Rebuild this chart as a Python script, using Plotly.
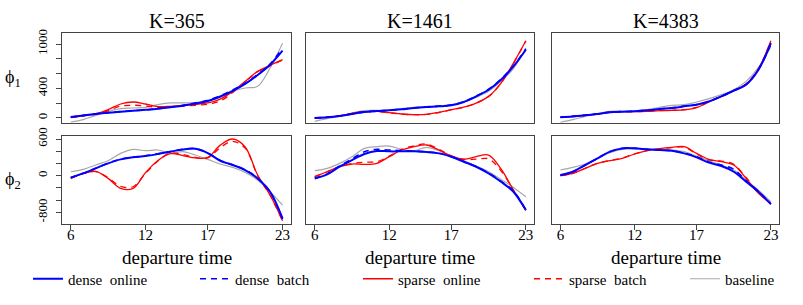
import plotly.graph_objects as go

hours = list(range(6, 24))
x_tickvals = [6, 12, 17, 23]
x_ticktext = ["6", "12", "17", "23"]
phi1_tickvals = [0, 400, 1000]
phi1_ticktext = ["0", "400", "1000"]
phi2_tickvals = [600, 0, -600]
phi2_ticktext = ["600", "0", "-800"]
y_minor_step = 200
panel_titles = ["K=365", "K=1461", "K=4383"]

# ---- K=365 ----
k365_phi1_dense_online = [14, 35, 55, 72, 85, 97, 110, 125, 145, 165, 195, 230, 290, 365, 460, 580, 720, 910]
k365_phi1_dense_batch = [14, 35, 55, 72, 86, 98, 110, 126, 147, 170, 203, 240, 300, 380, 470, 590, 730, 945]
k365_phi1_sparse_online = [9, 30, 54, 112, 189, 216, 189, 153, 158, 171, 184, 203, 256, 360, 495, 630, 711, 788]
k365_phi1_sparse_batch = [5, 28, 50, 100, 160, 172, 162, 145, 150, 162, 172, 185, 230, 345, 490, 625, 705, 785]
k365_phi1_baseline = [-54, -22, 36, 90, 126, 135, 144, 180, 203, 203, 207, 234, 279, 360, 405, 428, 675, 1012]

k365_phi2_dense_online = [-33, 38, 120, 202, 267, 300, 322, 355, 393, 430, 440, 370, 245, 175, 93, -44, -262, -698]
k365_phi2_dense_batch = [-30, 40, 122, 205, 270, 303, 325, 357, 395, 432, 442, 372, 248, 178, 96, -40, -265, -710]
k365_phi2_sparse_online = [-44, 38, 71, -44, -207, -207, 50, 250, 360, 330, 290, 300, 500, 600, 470, 11, -316, -736]
k365_phi2_sparse_batch = [-40, 35, 68, -30, -175, -180, 40, 240, 370, 345, 300, 290, 460, 560, 450, 0, -320, -740]
k365_phi2_baseline = [65, 104, 175, 245, 365, 431, 409, 420, 365, 393, 338, 267, 191, 136, 55, -71, -262, -480]

# ---- K=1461 ----
k1461_phi1_dense_online = [0, 9, 27, 54, 81, 94, 103, 117, 135, 148, 157, 171, 216, 292, 382, 517, 697, 922]
k1461_phi1_dense_batch = [0, 10, 28, 55, 83, 96, 104, 118, 136, 150, 160, 175, 220, 296, 388, 525, 705, 935]
k1461_phi1_sparse_online = [0, 9, 27, 63, 85, 88, 72, 54, 45, 49, 76, 112, 148, 202, 292, 472, 742, 1044]
k1461_phi1_sparse_batch = [0, 9, 27, 62, 84, 87, 70, 53, 44, 48, 74, 110, 146, 200, 290, 470, 738, 1040]
k1461_phi1_baseline = [-45, -9, 22, 67, 99, 103, 103, 126, 144, 153, 162, 180, 216, 279, 360, 495, 666, 945]

k1461_phi2_dense_online = [-44, 22, 147, 256, 355, 404, 398, 398, 398, 387, 365, 311, 229, 147, 38, -98, -262, -562]
k1461_phi2_dense_batch = [-40, 30, 160, 275, 393, 431, 420, 410, 400, 390, 368, 313, 232, 150, 45, -90, -250, -560]
k1461_phi2_sparse_online = [-16, 65, 147, 191, 185, 202, 311, 420, 475, 502, 420, 322, 270, 311, 338, 110, -235, -562]
k1461_phi2_sparse_batch = [-16, 65, 150, 200, 222, 229, 320, 430, 490, 518, 430, 325, 265, 270, 275, 80, -240, -565]
k1461_phi2_baseline = [82, 120, 202, 311, 447, 475, 485, 431, 409, 464, 409, 311, 245, 158, 65, -60, -191, -344]

# ---- K=4383 ----
k4383_phi1_dense_online = [9, 20, 36, 54, 76, 85, 90, 103, 121, 135, 157, 180, 225, 292, 369, 450, 652, 1012]
k4383_phi1_dense_batch = [9, 21, 37, 55, 77, 86, 91, 104, 122, 137, 160, 182, 227, 294, 372, 455, 655, 1000]
k4383_phi1_sparse_online = [9, 22, 36, 54, 76, 85, 85, 90, 99, 103, 110, 140, 216, 292, 369, 459, 666, 1044]
k4383_phi1_sparse_batch = [9, 22, 37, 55, 77, 86, 86, 91, 100, 104, 112, 142, 218, 293, 370, 460, 668, 1040]
k4383_phi1_baseline = [-58, -22, 22, 58, 90, 90, 94, 112, 144, 171, 180, 216, 261, 315, 382, 495, 684, 967]

k4383_phi2_dense_online = [11, 65, 175, 284, 393, 447, 447, 431, 420, 409, 365, 300, 213, 158, 65, -98, -262, -464]
k4383_phi2_dense_batch = [11, 65, 175, 284, 393, 447, 447, 431, 420, 409, 368, 310, 225, 175, 104, -80, -255, -464]
k4383_phi2_sparse_online = [0, 38, 120, 202, 245, 284, 355, 409, 442, 464, 475, 365, 267, 229, 175, -44, -289, -453]
k4383_phi2_sparse_batch = [0, 38, 122, 205, 250, 290, 358, 410, 440, 460, 465, 355, 260, 240, 185, -30, -280, -453]
k4383_phi2_baseline = [93, 136, 191, 284, 376, 431, 442, 431, 431, 420, 393, 322, 245, 175, 93, -71, -235, -426]

panels = [
    [  # row 1: phi1
        (k365_phi1_dense_online, k365_phi1_dense_batch, k365_phi1_sparse_online, k365_phi1_sparse_batch, k365_phi1_baseline),
        (k1461_phi1_dense_online, k1461_phi1_dense_batch, k1461_phi1_sparse_online, k1461_phi1_sparse_batch, k1461_phi1_baseline),
        (k4383_phi1_dense_online, k4383_phi1_dense_batch, k4383_phi1_sparse_online, k4383_phi1_sparse_batch, k4383_phi1_baseline),
    ],
    [  # row 2: phi2
        (k365_phi2_dense_online, k365_phi2_dense_batch, k365_phi2_sparse_online, k365_phi2_sparse_batch, k365_phi2_baseline),
        (k1461_phi2_dense_online, k1461_phi2_dense_batch, k1461_phi2_sparse_online, k1461_phi2_sparse_batch, k1461_phi2_baseline),
        (k4383_phi2_dense_online, k4383_phi2_dense_batch, k4383_phi2_sparse_online, k4383_phi2_sparse_batch, k4383_phi2_baseline),
    ],
]

series_names = ["dense\u00a0 online", "dense\u00a0 batch", "sparse\u00a0 online", "sparse\u00a0 batch", "baseline"]
series_style = [
    dict(color="#0000FF", width=2.0, dash="solid"),
    dict(color="#0000FF", width=1.6, dash="6px,5px"),
    dict(color="#FF0000", width=1.3, dash="solid"),
    dict(color="#FF0000", width=1.3, dash="6px,5px"),
    dict(color="#A8A8A8", width=1.2, dash="solid"),
]
legend_ids = ["legend", "legend2", "legend3", "legend4", "legend5"]
legend_line_start_px = [33, 200, 363, 534, 690]
draw_order = [4, 2, 3, 0, 1]

W, H = 803, 305
col_px = [(62.3, 291.0), (306.3, 534.3), (552.0, 779.3)]
row_px = [(33.0, 123.3), (135.7, 224.3)]
FONT = "Liberation Serif"
FRAME = "#444444"

fig = go.Figure()
layout = {}
for r in range(2):
    for c in range(3):
        i = r * 3 + c + 1
        xa = f"x{i}" if i > 1 else "x"
        ya = f"y{i}" if i > 1 else "y"
        data = panels[r][c]
        for s in draw_order:
            fig.add_trace(go.Scatter(
                x=hours, y=data[s], mode="lines",
                line=dict(shape="spline", smoothing=1.0, **series_style[s]),
                name=series_names[s], legend=legend_ids[s],
                showlegend=(r == 0 and c == 0),
                xaxis=xa, yaxis=ya, hoverinfo="skip",
            ))
        x0, x1 = col_px[c]
        y0, y1 = row_px[r]
        xkey = "xaxis" if i == 1 else f"xaxis{i}"
        ykey = "yaxis" if i == 1 else f"yaxis{i}"
        layout[xkey] = dict(
            domain=[x0 / W, x1 / W], anchor=ya, range=[5.32, 23.68], automargin=False,
            showline=True, mirror=True, linecolor=FRAME, linewidth=1,
            showgrid=False, zeroline=False,
            ticks="outside" if r == 1 else "", ticklen=5, tickcolor=FRAME, tickwidth=1,
            tickvals=x_tickvals, ticktext=x_ticktext, showticklabels=(r == 1),
            ticklabelstandoff=-8,
            tickfont=dict(family=FONT, size=15, color="black"),
        )
        if r == 0:
            yr = [-72, 1149]
            tv, tt = phi1_tickvals, phi1_ticktext
        else:
            yr = [-794, 654]
            tv, tt = phi2_tickvals, phi2_ticktext
        layout[ykey] = dict(
            domain=[1 - y1 / H, 1 - y0 / H], anchor=xa, range=yr, automargin=False,
            showline=True, mirror=True, linecolor=FRAME, linewidth=1,
            showgrid=False, zeroline=False,
            ticks="outside" if c == 0 else "", ticklen=5, tickcolor=FRAME, tickwidth=1,
            tickvals=tv, ticktext=tt, showticklabels=(c == 0), tickangle=-90,
            ticklabelstandoff=4,
            minor=dict(ticks="outside" if c == 0 else "", ticklen=5, tickcolor=FRAME, tickwidth=1,
                       tick0=0, dtick=y_minor_step, showgrid=False),
            tickfont=dict(family=FONT, size=13, color="black"),
        )

annotations = []
for c in range(3):
    xc = (col_px[c][0] + col_px[c][1]) / 2 / W
    annotations.append(dict(text=panel_titles[c], x=xc, y=1 - 20.5 / H, xref="paper", yref="paper",
                            showarrow=False, xanchor="center", yanchor="middle",
                            font=dict(family=FONT, size=20, color="black")))
    annotations.append(dict(text="departure time", x=xc, y=1 - 257 / H, xref="paper", yref="paper",
                            showarrow=False, xanchor="center", yanchor="middle",
                            font=dict(family=FONT, size=19, color="black")))
for r, lab in enumerate(["\u03d5<sub>1</sub>", "\u03d5<sub>2</sub>"]):
    yc = 1 - (row_px[r][0] + row_px[r][1]) / 2 / H
    annotations.append(dict(text=lab, x=13 / W, y=yc, xref="paper", yref="paper",
                            showarrow=False, xanchor="center", yanchor="middle",
                            font=dict(family=FONT, size=18, color="black")))

legends = {}
for k, lid in enumerate(legend_ids):
    legends[lid] = dict(
        orientation="h", x=(legend_line_start_px[k] - 5) / W, xanchor="left",
        y=1 - 279 / H, yanchor="middle", bgcolor="rgba(0,0,0,0)", borderwidth=0,
        font=dict(family=FONT, size=15, color="black"), itemwidth=30,
    )

fig.update_layout(
    width=W, height=H, margin=dict(l=0, r=0, t=0, b=0, autoexpand=False),
    paper_bgcolor="white", plot_bgcolor="white",
    annotations=annotations,
    **legends,
    **layout,
)

fig.write_html("out.html", config={"displayModeBar": False},
               post_script="document.body.style.margin='0';document.body.style.overflow='hidden';")
